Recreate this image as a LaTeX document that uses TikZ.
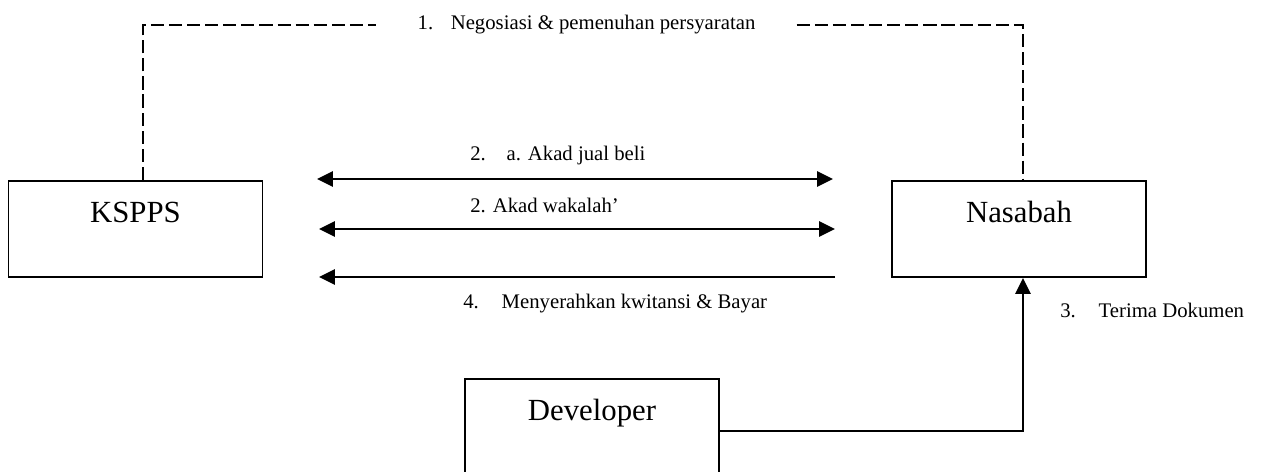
\documentclass[tikz,border=0pt]{standalone}
\usepackage{fontspec}
\setmainfont{Liberation Serif}
\usetikzlibrary{arrows.meta}

\begin{document}
\begin{tikzpicture}[x=0.02cm, y=-0.02cm,
	>={Triangle[length=9pt, width=8.5pt]},
	box/.style={draw=black, line width=1.1pt, inner sep=0pt, minimum width=5.08cm, minimum height=1.92cm, text height=0.82cm, text depth=1.1cm, font=\fontsize{17.5}{21}\selectfont},
	lbl/.style={anchor=base west, inner sep=0pt, font=\fontsize{11.8}{14}\selectfont},
	arr/.style={black, line width=1.4pt},
	dline/.style={black, line width=0.8pt, dash pattern=on 7.5pt off 2.8pt}]
	
	\useasboundingbox (0,0) rectangle (1263,471);
	
	\node[box] (kspps) at (135.5,229) {KSPPS};
	\node[box] (nasabah) at (1019,229) {Nasabah};
	\node[box] (developer) at (592,427) {Developer};
	
	% 1. negosiasi
	\coordinate (negL) at (143,25);
	\coordinate (negR) at (1023,25);
	\node[anchor=base, inner xsep=0.82cm, inner ysep=0pt, font=\fontsize{11.8}{14}\selectfont] (nego) at (586.5,29) {1.\hspace{0.85em}Negosiasi \& pemenuhan persyaratan};
	\draw[dline] (kspps.north -| negL) -- (negL) -- (negL -| nego.west);
	\draw[dline] (negR -| nego.east) -- (negR) -- (nasabah.north -| negR);
	
	% 2. akad
	\coordinate (jbL) at (317,179);
	\coordinate (jbR) at (833,179);
	\coordinate (wkL) at (319,229);
	\coordinate (wkR) at (835,229);
	\draw[arr, <->] (jbL) -- (jbR);
	\draw[arr, <->] (wkL) -- (wkR);
	\node[lbl] (akadjb) at (470,160) {2.\hspace{1em}a. Akad jual beli};
	\node[lbl] (akadwk) at (470,212) {2. Akad wakalah'};
	
	% 4. bayar
	\coordinate (byL) at (319,277);
	\coordinate (byR) at (835,277);
	\draw[arr, ->] (byR) -- (byL);
	\node[lbl] (bayar) at (463,308) {4.\hspace{1.1em}Menyerahkan kwitansi \& Bayar};
	
	% 3. dokumen
	\coordinate (dok) at (1023,431);
	\draw[arr, ->] (developer.east |- dok) -| (nasabah.south -| dok);
	\node[lbl] (terima) at (1060,317) {3.\hspace{1.1em}Terima Dokumen};
	
\end{tikzpicture}
\end{document}
